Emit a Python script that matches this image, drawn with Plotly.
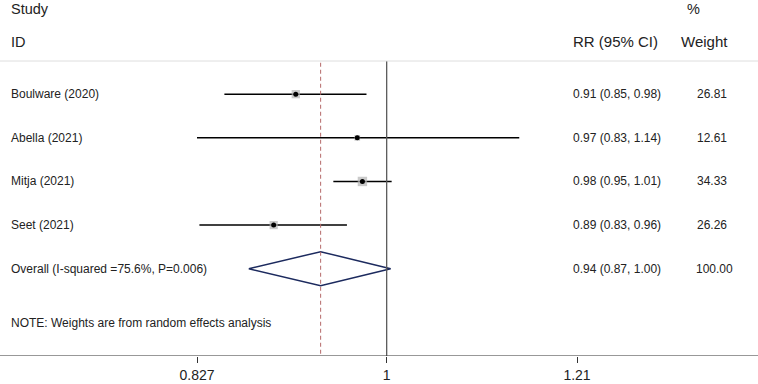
import plotly.graph_objects as go
import math

studies = ["Boulware (2020)", "Abella (2021)", "Mitja (2021)", "Seet (2021)"]
rr = [0.913, 0.971, 0.976, 0.893]
lower = [0.850, 0.827, 0.948, 0.829]
upper = [0.980, 1.142, 1.005, 0.961]
rr_labels = ["0.91 (0.85, 0.98)", "0.97 (0.83, 1.14)", "0.98 (0.95, 1.01)", "0.89 (0.83, 0.96)"]
weights = ["26.81", "12.61", "34.33", "26.26"]
weight_vals = [26.81, 12.61, 34.33, 26.26]

overall_label = "Overall (I-squared =75.6%, P=0.006)"
overall_rr = 0.936
overall_lo = 0.871
overall_hi = 1.004
overall_text = "0.94 (0.87, 1.00)"
overall_weight = "100.00"

tick_vals = [0.827, 1, 1.21]
tick_text = ["0.827", "1", "1.21"]

W, H = 758, 384
FONT = "Liberation Sans, Arial, Helvetica, sans-serif"

rows = list(range(len(studies)))
overall_row = len(studies)

fig = go.Figure()

# CI lines
xs, ys = [], []
for r, lo, hi in zip(rows, lower, upper):
    xs += [lo, hi, None]
    ys += [r, r, None]
fig.add_trace(go.Scatter(x=xs, y=ys, mode="lines", line=dict(color="black", width=1.5),
                         hoverinfo="skip", showlegend=False))

# weight boxes
sizes = [1.6 * math.sqrt(w) for w in weight_vals]
fig.add_trace(go.Scatter(x=rr, y=rows, mode="markers",
                         marker=dict(symbol="square", size=sizes, color="#b4b4b4", line=dict(width=0)),
                         showlegend=False))
# point estimate dots
fig.add_trace(go.Scatter(x=rr, y=rows, mode="markers",
                         marker=dict(symbol="circle", size=5, color="black"),
                         showlegend=False))

# diamond
h = 0.39
fig.add_trace(go.Scatter(x=[overall_lo, overall_rr, overall_hi, overall_rr, overall_lo],
                         y=[overall_row, overall_row - h, overall_row, overall_row + h, overall_row],
                         mode="lines", line=dict(color="#1c2a5e", width=1.5),
                         showlegend=False))

y_bottom = 6
y_top = -2.158

# null line at 1
fig.add_shape(type="line", xref="x", yref="y", x0=1, x1=1, y0=-0.76, y1=y_bottom,
              line=dict(color="#5a5a5a", width=1.3))
# overall dashed line
fig.add_shape(type="line", xref="x", yref="y", x0=overall_rr, x1=overall_rr, y0=-0.72, y1=y_bottom,
              line=dict(color="#b56a6a", width=1, dash="4px,3px"))
# header separator line
fig.add_shape(type="line", xref="paper", yref="y", x0=0, x1=1, y0=-0.76, y1=-0.76,
              line=dict(color="#dedede", width=1))
# full-width axis line
fig.add_shape(type="line", xref="paper", yref="y", x0=0, x1=1, y0=y_bottom, y1=y_bottom,
              line=dict(color="#333333", width=1.2))

def ann(text, x, y, size, anchor="left"):
    fig.add_annotation(text=text, x=x / W, y=y, xref="paper", yref="y", showarrow=False,
                       xanchor=anchor, yanchor="middle", font=dict(family=FONT, size=size, color="#222"))

ann("Study", 9, -1.95, 14.5)
ann("ID", 9, -1.2, 14.5)
ann("%", 693, -1.95, 14.5, "center")
ann("RR (95% CI)", 571, -1.2, 15)
ann("Weight", 704, -1.2, 15, "center")

for r, s, lab, w in zip(rows, studies, rr_labels, weights):
    ann(s, 9, r, 12)
    ann(lab, 571, r, 12)
    ann(w, 695, r, 12)

ann(overall_label, 9, overall_row, 12)
ann(overall_text, 571, overall_row, 12)
ann(overall_weight, 694, overall_row, 12)
ann("NOTE: Weights are from random effects analysis", 9, 5.25, 12)

fig.update_layout(
    width=W, height=H,
    margin=dict(l=0, r=0, t=0, b=H - 356, autoexpand=False),
    plot_bgcolor="white", paper_bgcolor="white",
    xaxis=dict(type="log", domain=[197 / W, 577 / W],
               range=[math.log10(0.827), math.log10(1.21)],
               tickvals=tick_vals, ticktext=tick_text,
               ticks="outside", ticklen=6, tickwidth=1.2, tickcolor="#333",
               showgrid=False, zeroline=False, showline=False, automargin=False,
               tickfont=dict(family=FONT, size=14, color="#222")),
    yaxis=dict(range=[y_bottom, y_top], showgrid=False, zeroline=False, showline=False,
               showticklabels=False, ticks="", automargin=False),
    showlegend=False,
)

fig.write_html("out.html", config={"displayModeBar": False},
               post_script="document.body.style.margin='0';document.body.style.overflow='hidden';")
